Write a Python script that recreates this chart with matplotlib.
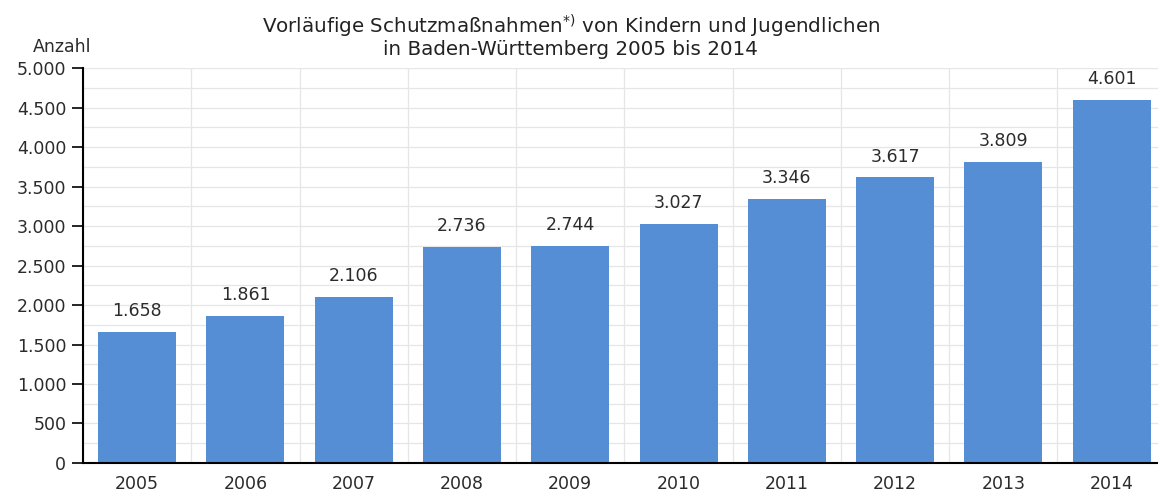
import numpy as np
import matplotlib
matplotlib.use("Agg")
import matplotlib.pyplot as plt
from matplotlib.ticker import FuncFormatter, MultipleLocator

years = ["2005", "2006", "2007", "2008", "2009", "2010", "2011", "2012", "2013", "2014"]
counts = [1658, 1861, 2106, 2736, 2744, 3027, 3346, 3617, 3809, 4601]

TITLE = ("Vorläufige Schutzmaßnahmen$^{*)}$ von Kindern und Jugendlichen\n"
         "in Baden-Württemberg 2005 bis 2014")
BAR_COLOR = "#558ed5"
TEXT_COLOR = "#2b2b2b"


def de_fmt(v, _pos=None):
    return f"{int(round(v)):,}".replace(",", ".")


plt.rcParams["font.family"] = ["DejaVu Sans"]

fig = plt.figure(figsize=(11.58, 4.94), dpi=100)
ax = fig.add_axes([0.0717, 0.0628, 0.935, 0.7992])

x = np.arange(len(years))
ax.bar(x, counts, width=0.72, color=BAR_COLOR, zorder=2)
for xi, c in zip(x, counts):
    ax.text(xi, c + 150, de_fmt(c), ha="center", va="bottom",
            fontsize=12.5, color=TEXT_COLOR)

ax.set_xlim(-0.5, len(years) - 0.5)
ax.set_ylim(0, 5000)
ax.set_xticks(x)
ax.set_xticklabels(years, fontsize=12.5, color=TEXT_COLOR)
ax.tick_params(axis="x", length=0, pad=9)

ax.yaxis.set_major_locator(MultipleLocator(500))
ax.yaxis.set_minor_locator(MultipleLocator(250))
ax.yaxis.set_major_formatter(FuncFormatter(de_fmt))
ax.tick_params(axis="y", which="major", length=8, width=1.2,
               labelsize=12.5, labelcolor=TEXT_COLOR, pad=4)
ax.tick_params(axis="y", which="minor", length=0)

# grid: horizontal every 250, vertical at category boundaries
ax.set_xticks(np.arange(-0.5, len(years)), minor=True)
ax.tick_params(axis="x", which="minor", length=0)
ax.grid(True, which="minor", color="#e6e6e6", linewidth=0.9, zorder=0)
ax.grid(True, which="major", axis="y", color="#e6e6e6", linewidth=0.9, zorder=0)
ax.set_axisbelow(True)

for side in ("top", "right"):
    ax.spines[side].set_visible(False)
ax.spines["left"].set_linewidth(1.5)
ax.spines["bottom"].set_linewidth(1.5)

fig.text(0.493, 0.975, TITLE, ha="center", va="top", fontsize=14.3,
         color="#222222", linespacing=1.05)
fig.text(0.028, 0.905, "Anzahl", ha="left", va="center", fontsize=12.5,
         color=TEXT_COLOR)

fig.savefig("out.png", dpi=100)
